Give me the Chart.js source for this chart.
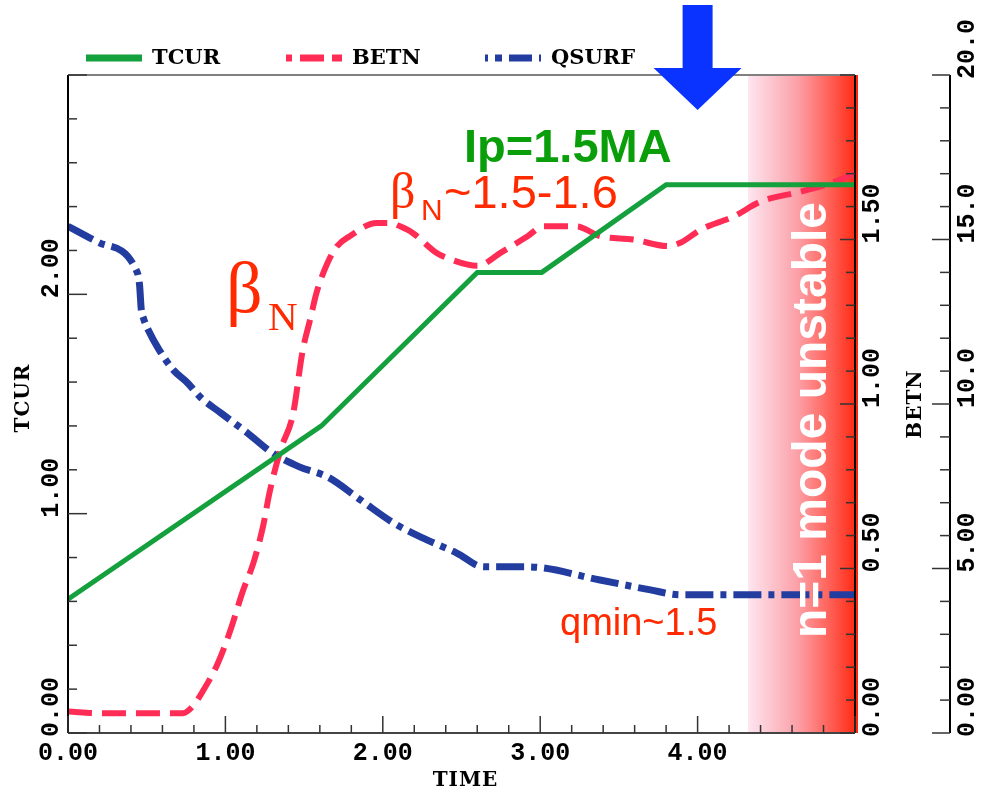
<!DOCTYPE html>
<html>
<head>
<meta charset="utf-8">
<script src="https://cdn.jsdelivr.net/npm/chart.js@4.4.1/dist/chart.umd.min.js"></script>
<style>
  html, body { margin: 0; padding: 0; background: #ffffff; }
  #wrap { width: 1002px; height: 789px; position: relative; }
</style>
</head>
<body>
<div id="wrap"><canvas id="c"></canvas></div>
<script>
// Plasma current (TCUR) against time
const tcurTime = [0.00, 1.61, 2.60, 3.01, 3.80, 5.00];
const tcur     = [0.61, 1.40, 2.10, 2.10, 2.50, 2.50];

// Normalised beta (BETN) against time
const betnTime = [0.00, 0.20, 0.50, 0.73, 0.79, 0.86, 0.95, 1.03, 1.11, 1.18, 1.24, 1.28, 1.35, 1.43,
                  1.49, 1.54, 1.58, 1.65, 1.71, 1.79, 1.96, 2.05, 2.11, 2.19, 2.34, 2.43, 2.60, 2.75,
                  2.92, 3.02, 3.08, 3.23, 3.38, 3.59, 3.81, 3.89, 4.02, 4.23, 4.40, 4.65, 4.84, 5.00];
const betn     = [0.065, 0.06, 0.06, 0.06, 0.08, 0.13, 0.21, 0.31, 0.43, 0.52, 0.63, 0.73, 0.86, 0.97,
                  1.16, 1.26, 1.34, 1.43, 1.48, 1.51, 1.55, 1.55, 1.54, 1.52, 1.46, 1.44, 1.42, 1.46,
                  1.51, 1.54, 1.54, 1.54, 1.51, 1.50, 1.48, 1.49, 1.53, 1.57, 1.615, 1.645, 1.67, 1.70];

// Surface safety factor (QSURF) against time
const qsurfTime = [0.00, 0.20, 0.44, 0.455, 0.465, 0.48, 0.51, 0.58, 0.67, 0.76, 0.84, 0.97, 1.14,
                   1.30, 1.47, 1.65, 1.86, 2.07, 2.28, 2.47, 2.64, 2.92, 3.38, 3.70, 3.89, 5.00];
const qsurf     = [15.4, 14.9, 14.0, 13.6, 12.9, 12.6, 12.25, 11.64, 11.03, 10.64, 10.21, 9.73, 9.12,
                   8.51, 8.09, 7.78, 7.08, 6.38, 5.87, 5.47, 5.05, 5.05, 4.65, 4.35, 4.20, 4.20];

// Axis ranges and tick steps
const timeRange  = [0, 5];   const timeStep  = 0.2;
const tcurRange  = [0, 3];   const tcurStep  = 0.2;
const betnRange  = [0, 2];   const betnStep  = 0.1;
const qsurfRange = [0, 20];  const qsurfStep = 1;

// Time window where the n=1 mode is unstable, and the marked time
const unstableFrom = 4.32;
const markedTime = 4.0;

const pts = (xs, ys) => xs.map((t, i) => ({ x: t, y: ys[i] }));
const near = (v, step) => Math.abs(v / step - Math.round(v / step)) < 1e-6;

const GREEN = '#14a03c', RED = '#ff2d55', BLUE = '#233c9f', NOTE_RED = '#ff2a00';
const TICK_FONT = 'bold 25px "Liberation Mono", "DejaVu Sans Mono", monospace';
const TITLE_FONT = 'bold 20px "DejaVu Serif", serif';

function vText(ctx, str, x, y, align) {
  ctx.save();
  ctx.translate(x, y);
  ctx.rotate(-Math.PI / 2);
  ctx.textAlign = align;
  ctx.textBaseline = 'middle';
  ctx.fillText(str, 0, 0);
  ctx.restore();
}
function seg(ctx, x1, y1, x2, y2) {
  ctx.beginPath(); ctx.moveTo(x1, y1); ctx.lineTo(x2, y2); ctx.stroke();
}

const decor = {
  id: 'decor',
  beforeDatasetsDraw(chart) {
    const { ctx, chartArea: a, scales: { x } } = chart;
    const x0 = x.getPixelForValue(unstableFrom);
    const x1 = a.right + 3;
    const g = ctx.createLinearGradient(x0, 0, x1, 0);
    g.addColorStop(0.00, 'rgb(253,230,240)');
    g.addColorStop(0.45, 'rgb(252,160,168)');
    g.addColorStop(0.75, 'rgb(255,95,85)');
    g.addColorStop(1.00, 'rgb(255,38,14)');
    ctx.save();
    ctx.fillStyle = g;
    ctx.fillRect(x0, a.top, x1 - x0, a.bottom - a.top);
    ctx.restore();
  },
  afterDatasetsDraw(chart) {
    const { ctx, chartArea: a, scales } = chart;
    const { x, yT, yB, yQ } = scales;
    ctx.save();

    // frame
    ctx.lineWidth = 2;
    ctx.strokeStyle = '#808080';
    seg(ctx, a.left, a.top, a.right, a.top);
    ctx.strokeStyle = '#444';
    seg(ctx, a.left, a.bottom, a.right, a.bottom);
    ctx.strokeStyle = '#000';
    seg(ctx, a.left, a.top, a.left, a.bottom);
    seg(ctx, a.right, a.top, a.right, a.bottom);
    const qx = yQ.left;
    seg(ctx, qx, a.top, qx, a.bottom);

    // tick marks
    ctx.lineWidth = 1.5;
    ctx.strokeStyle = '#333';
    x.ticks.forEach(t => {
      const p = x.getPixelForValue(t.value);
      seg(ctx, p, a.bottom, p, a.bottom - (near(t.value, 1) ? 17 : 8));
    });
    yT.ticks.forEach(t => {
      const p = yT.getPixelForValue(t.value);
      seg(ctx, a.left, p, a.left + (near(t.value, 1) ? 19 : 9), p);
    });
    yB.ticks.forEach(t => {
      const p = yB.getPixelForValue(t.value);
      seg(ctx, a.right, p, a.right - (near(t.value, 0.5) ? 15 : 9), p);
    });
    yQ.ticks.forEach(t => {
      const p = yQ.getPixelForValue(t.value);
      seg(ctx, qx, p, qx - (near(t.value, 5) ? 18 : 10), p);
    });

    // tick labels
    ctx.fillStyle = '#000';
    ctx.font = TICK_FONT;
    ctx.textAlign = 'center';
    ctx.textBaseline = 'middle';
    x.ticks.forEach(t => {
      if (near(t.value, 1) && t.value < timeRange[1] - 1e-6) {
        ctx.fillText(Math.round(t.value).toFixed(2), x.getPixelForValue(t.value), 754);
      }
    });
    yT.ticks.forEach(t => {
      if (near(t.value, 1) && t.value < tcurRange[1] - 1e-6) {
        vText(ctx, Math.round(t.value).toFixed(2), 52, yT.getPixelForValue(t.value) + 4, 'left');
      }
    });
    yB.ticks.forEach(t => {
      if (near(t.value, 0.5) && t.value < betnRange[1] - 1e-6) {
        const v = Math.round(t.value * 2) / 2;
        vText(ctx, v.toFixed(2), a.right + 18, yB.getPixelForValue(t.value) + 4, 'left');
      }
    });
    yQ.ticks.forEach(t => {
      if (near(t.value, 5)) {
        const v = Math.round(t.value);
        vText(ctx, v < 10 ? v.toFixed(2) : v.toFixed(1), qx + 18, yQ.getPixelForValue(t.value) + 4, 'left');
      }
    });

    // axis titles
    ctx.font = TITLE_FONT;
    ctx.letterSpacing = '1px';
    ctx.fillText('TIME', (a.left + a.right) / 2 + 4, 781);
    vText(ctx, 'TCUR', 24, (a.top + a.bottom) / 2 - 6, 'center');
    vText(ctx, 'BETN', 916, (a.top + a.bottom) / 2, 'center');
    ctx.letterSpacing = '0px';

    // legend
    const legendX = [86, 286, 485];
    const legendOffset = [0, 18, 20];
    chart.data.datasets.forEach((ds, i) => {
      const lx = legendX[i];
      ctx.save();
      ctx.strokeStyle = ds.borderColor;
      ctx.lineWidth = 7;
      ctx.lineCap = 'butt';
      ctx.setLineDash(ds.legendDash || []);
      ctx.lineDashOffset = legendOffset[i];
      seg(ctx, lx, 58, lx + 56, 58);
      ctx.restore();
      ctx.font = 'bold 21px "DejaVu Serif", serif';
      ctx.textAlign = 'left';
      ctx.textBaseline = 'alphabetic';
      ctx.fillStyle = '#000';
      ctx.fillText(ds.label, lx + 66, 64);
    });

    // annotations
    ctx.textAlign = 'left';
    ctx.textBaseline = 'alphabetic';
    ctx.fillStyle = '#0a9f0a';
    ctx.font = 'bold 47px "Liberation Sans", Arial, sans-serif';
    ctx.fillText('Ip=1.5MA', 464, 162);

    ctx.fillStyle = NOTE_RED;
    ctx.font = '50px "Liberation Serif", serif';
    ctx.fillText('β', 390, 208);
    ctx.font = '30px "Liberation Sans", sans-serif';
    ctx.fillText('N', 421, 220);
    ctx.font = '47px "Liberation Sans", sans-serif';
    ctx.fillText('~1.5-1.6', 444, 208);

    ctx.font = '72px "Liberation Serif", serif';
    ctx.fillText('β', 226, 312);
    ctx.font = '41px "Liberation Serif", serif';
    ctx.fillText('N', 268, 330);

    ctx.font = '38px "Liberation Sans", sans-serif';
    ctx.fillText('qmin~1.5', 560, 635);

    // unstable-region label
    ctx.save();
    ctx.translate(826, 420);
    ctx.rotate(-Math.PI / 2);
    ctx.fillStyle = '#ffffff';
    ctx.font = 'bold 48px "Liberation Sans", Arial, sans-serif';
    ctx.textAlign = 'center';
    ctx.fillText('n=1 mode unstable', 0, 0);
    ctx.restore();

    // arrow marking the chosen time
    const tip = x.getPixelForValue(markedTime);
    ctx.fillStyle = '#0b33ff';
    ctx.beginPath();
    ctx.moveTo(tip - 15, 5);
    ctx.lineTo(tip + 15, 5);
    ctx.lineTo(tip + 15, 68);
    ctx.lineTo(tip + 44, 68);
    ctx.lineTo(tip, 110);
    ctx.lineTo(tip - 44, 68);
    ctx.lineTo(tip - 15, 68);
    ctx.closePath();
    ctx.fill();

    ctx.restore();
  }
};

const hiddenAxis = (extra) => Object.assign({
  type: 'linear',
  grid: { display: false },
  border: { display: false },
  ticks: { display: false, autoSkip: false },
}, extra);

new Chart(document.getElementById('c'), {
  type: 'line',
  data: {
    datasets: [
      { label: 'TCUR', data: pts(tcurTime, tcur), yAxisID: 'yT',
        borderColor: GREEN, borderWidth: 5, pointRadius: 0, tension: 0 },
      { label: 'BETN', data: pts(betnTime, betn), yAxisID: 'yB',
        borderColor: RED, borderWidth: 6, pointRadius: 0, borderDash: [24, 10],
        legendDash: [24, 8], cubicInterpolationMode: 'monotone', borderCapStyle: 'butt' },
      { label: 'QSURF', data: pts(qsurfTime, qsurf), yAxisID: 'yQ',
        borderColor: BLUE, borderWidth: 7, pointRadius: 0, borderDash: [28, 7, 6, 7],
        legendDash: [23, 7, 7, 7], cubicInterpolationMode: 'monotone', borderCapStyle: 'butt' }
    ]
  },
  options: {
    responsive: true,
    maintainAspectRatio: false,
    animation: false,
    devicePixelRatio: 1,
    layout: { padding: { top: 75, left: 0, right: 0, bottom: 0 } },
    plugins: { legend: { display: false }, tooltip: { enabled: false } },
    scales: {
      x: hiddenAxis({ position: 'bottom', min: timeRange[0], max: timeRange[1],
        ticks: { display: false, autoSkip: false, stepSize: timeStep },
        afterFit: s => { s.height = 56; } }),
      yT: hiddenAxis({ position: 'left', min: tcurRange[0], max: tcurRange[1],
        ticks: { display: false, autoSkip: false, stepSize: tcurStep },
        afterFit: s => { s.width = 68; } }),
      yB: hiddenAxis({ position: 'right', weight: 0, min: betnRange[0], max: betnRange[1],
        ticks: { display: false, autoSkip: false, stepSize: betnStep },
        afterFit: s => { s.width = 95; } }),
      yQ: hiddenAxis({ position: 'right', weight: 1, min: qsurfRange[0], max: qsurfRange[1],
        ticks: { display: false, autoSkip: false, stepSize: qsurfStep },
        afterFit: s => { s.width = 52; } })
    }
  },
  plugins: [decor]
});
</script>
</body>
</html>
